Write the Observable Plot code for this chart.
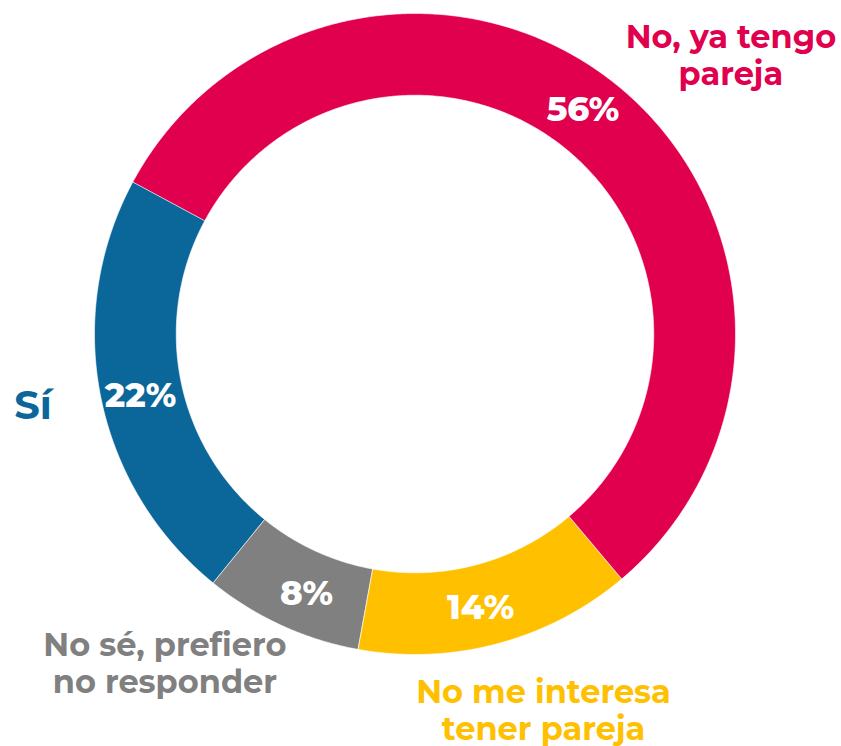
<!DOCTYPE html>
<html>
<head>
<meta charset="utf-8">
<script src="https://cdn.jsdelivr.net/npm/d3@7"></script>
<script src="https://cdn.jsdelivr.net/npm/@observablehq/plot@0.6"></script>
<style>
  html, body { margin: 0; padding: 0; background: #fff; }
  #chart svg { display: block; }
</style>
</head>
<body>
<div id="chart"></div>
<script>
// ---- data ----
const categories = ["No, ya tengo pareja", "No me interesa tener pareja", "No sé, prefiero no responder", "Sí"];
const labelTexts = ["No, ya tengo\npareja", "No me interesa\ntener pareja", "No sé, prefiero\nno responder", "Sí"];
const values = [56, 14, 8, 22];
const colors = ["#E0004D", "#FFC000", "#808080", "#0B6699"];

// ---- layout (not data) ----
const startDeg = -61.7;          // compass angle of first slice start
const innerR = 0.745;            // inner radius as fraction of outer
const pctR = 0.877;              // radius of percentage labels
const pctNudge = [-2.4, 1.4, -2, -1.2];   // degrees
const labelPos = [               // outside labels: [angleDeg, radius]
  [48.5, 1.316], [161.1, 1.238], [217.3, 1.288], [259.3, 1.213]
];
const labelSize = [32, 32, 32, 40];
const fontFamily = "'Montserrat', 'DejaVu Sans', sans-serif";

const total = d3.sum(values);
const rad = d => d * Math.PI / 180;

// build slice polygons
const rings = [];
const pctLabels = [];
const outLabels = [];
let acc = startDeg;
values.forEach((v, i) => {
  const a0 = acc, a1 = acc + v / total * 360;
  acc = a1;
  const n = Math.max(8, Math.ceil((a1 - a0) * 2));
  for (let k = 0; k <= n; k++) {
    const a = rad(a0 + (a1 - a0) * k / n);
    rings.push({cat: categories[i], x: Math.sin(a), y: Math.cos(a)});
  }
  for (let k = n; k >= 0; k--) {
    const a = rad(a0 + (a1 - a0) * k / n);
    rings.push({cat: categories[i], x: innerR * Math.sin(a), y: innerR * Math.cos(a)});
  }
  const am = rad((a0 + a1) / 2 + pctNudge[i]);
  pctLabels.push({text: values[i] + "%", x: pctR * Math.sin(am), y: pctR * Math.cos(am)});
  const [la, lr] = labelPos[i];
  outLabels.push({text: labelTexts[i], cat: categories[i], fs: labelSize[i], x: lr * Math.sin(rad(la)), y: lr * Math.cos(rad(la))});
});

const plot = Plot.plot({
  width: 841,
  height: 746,
  marginLeft: 94,
  marginRight: 106,
  marginTop: 13,
  marginBottom: 92,
  x: {domain: [-1, 1], axis: null},
  y: {domain: [-1, 1], axis: null},
  color: {domain: categories, range: colors},
  style: {fontFamily: fontFamily, background: "#fff"},
  marks: [
    Plot.line(rings, {x: "x", y: "y", z: "cat", fill: "cat", stroke: "#fff", strokeWidth: 0.6, curve: "linear-closed"}),
    Plot.text(pctLabels, {x: "x", y: "y", dy: 1, text: "text", fill: "#fff", fontSize: 34, fontWeight: 800}),
    Plot.text(outLabels.filter(d => d.fs === 32), {x: "x", y: "y", text: "text", fill: "cat", fontSize: 32, fontWeight: "bold", lineHeight: 1.156}),
    Plot.text(outLabels.filter(d => d.fs === 40), {x: "x", y: "y", text: "text", fill: "cat", fontSize: 40, fontWeight: "bold"})
  ]
});
document.getElementById("chart").appendChild(plot);
</script>
</body>
</html>
